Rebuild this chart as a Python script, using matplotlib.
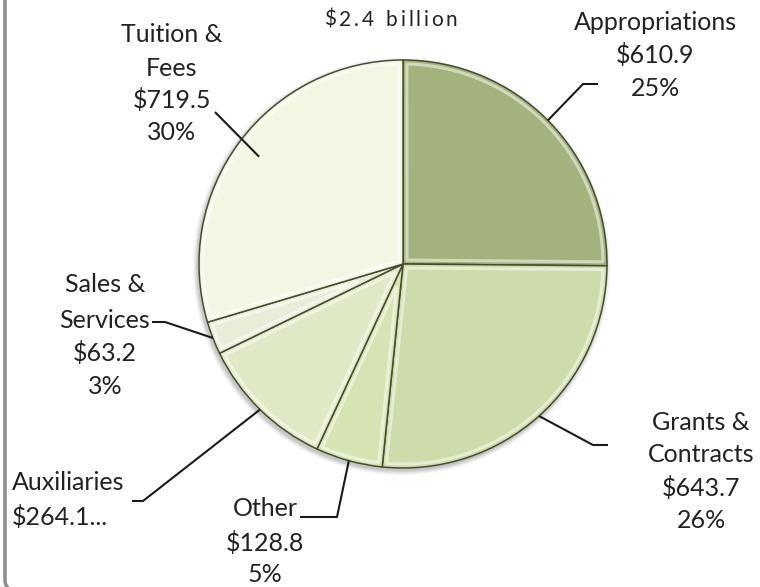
import matplotlib
matplotlib.use("Agg")
import matplotlib.pyplot as plt
import numpy as np
from matplotlib.patches import FancyBboxPatch, Circle, Polygon

# Revenue sources, millions of dollars
categories = ["Appropriations", "Grants & Contracts", "Other", "Auxiliaries",
              "Sales & Services", "Tuition & Fees"]
values = [610.9, 643.7, 128.8, 264.1, 63.2, 719.5]
total_label = "$2.4 billion"

colors = ["#a4b27d", "#cddcaa", "#d5e4b2", "#dfe9c5", "#e7edd9", "#f4f6e3"]

plt.rcParams["font.family"] = ["Lato", "DejaVu Sans"]

W, H = 760, 587
fig = plt.figure(figsize=(W / 100, H / 100), dpi=100)
ax = fig.add_axes([0, 0, 1, 1])

cx, cy, R = 403, 323, 204

# soft shadow under the pie
for k, a in zip(range(6, 0, -1), [0.03, 0.04, 0.05, 0.06, 0.08, 0.10]):
    ax.add_patch(Circle((cx - 1.5, cy - 2.5), R + k * 0.8, color="#555555",
                        alpha=a, lw=0, zorder=1))

wedges, _ = ax.pie(values, startangle=90, counterclock=False,
                   center=(cx, cy), radius=R, colors=colors,
                   wedgeprops=dict(edgecolor="#474c30", linewidth=1.1))
for w in wedges:
    w.set_zorder(2)

# inset outline on each wedge for a bevelled look
d = 4.0
for w in wedges:
    t1, t2 = np.deg2rad(w.theta1), np.deg2rad(w.theta2)
    half = (t2 - t1) / 2
    mid = (t1 + t2) / 2
    off = d / np.sin(half) if half < np.pi / 2 else d
    p0 = (cx + off * np.cos(mid), cy + off * np.sin(mid))
    a1 = t1 + d / R
    a2 = t2 - d / R
    arc = np.linspace(a1, a2, 60)
    pts = [p0] + [(cx + (R - d) * np.cos(a), cy + (R - d) * np.sin(a)) for a in arc]
    ax.add_patch(Polygon(pts, closed=True, facecolor="none", edgecolor="white",
                         alpha=0.5, lw=2.2, joinstyle="round", zorder=3))

ax.set_xlim(0, W)
ax.set_ylim(0, H)
ax.set_aspect("auto")
ax.axis("off")

total = sum(values)
pcts = [f"{round(v / total * 100):.0f}%" for v in values]
mids = [np.deg2rad((w.theta1 + w.theta2) / 2) for w in wedges]


def anchor(i, frac=1.0):
    return cx + R * frac * np.cos(mids[i]), cy + R * frac * np.sin(mids[i])


fs = 18
txt = dict(fontsize=fs, color="#222222", va="center")

# text blocks: (lines, x, y of each line, alignment)
blocks = [
    (["Appropriations", f"${values[0]:.1f}", pcts[0]], 655, [564, 532, 498], "center"),
    (["Grants &", "Contracts", f"${values[1]:.1f}", pcts[1]], 701, [164, 132, 99, 67], "center"),
    (["Other", f"${values[2]:.1f}", pcts[2]], 265, [79, 44, 12], "center"),
    (["Auxiliaries", f"${values[3]:.1f}..."], 12, [104, 70], "left"),
    (["Sales &", "Services", f"${values[4]:.1f}", pcts[4]], 105, [302, 266, 234, 200], "center"),
    (["Tuition &", "Fees", f"${values[5]:.1f}", pcts[5]], 172, [552, 519, 487, 455], "center"),
]
for lines, x, ys, ha in blocks:
    for s, y in zip(lines, ys):
        ax.text(x, y, s, ha=ha, **txt)

# leader lines: (slice index, elbow, end, anchor radius fraction)
leaders = [
    (0, (583, 503), (598, 503), 1.0),
    (1, (593, 142), (608, 142), 1.0),
    (2, (337, 70), (300, 70), 1.0),
    (3, (143, 86), (132, 86), 1.0),
    (4, (165, 265), (152, 265), 1.0),
    (5, None, (215, 475), 0.88),
]
for i, elbow, end, frac in leaders:
    ax0, ay0 = anchor(i, frac)
    pts = [(ax0, ay0)] + ([elbow] if elbow else []) + [end]
    xs, ys = zip(*pts)
    ax.plot(xs, ys, color="#1a1a1a", lw=1.5, zorder=5, solid_capstyle="butt")

# letter-spaced total at the top
fig.canvas.draw()
renderer = fig.canvas.get_renderer()
tfs = 15
tracking = 2.8
char_w = []
for ch in total_label:
    t = ax.text(0, 0, ch if ch != " " else "n", fontsize=tfs)
    bb = t.get_window_extent(renderer)
    char_w.append(bb.width * (0.55 if ch == " " else 1.0))
    t.remove()
span = sum(char_w) + tracking * (len(total_label) - 1)
x = 391 - span / 2
for ch, wdt in zip(total_label, char_w):
    ax.text(x, 567, ch, fontsize=tfs, color="#222222", ha="left", va="center")
    x += wdt + tracking

# frame along the left edge with a rounded lower corner
ax.add_patch(FancyBboxPatch((5, -3), 900, 800,
                            boxstyle="round,pad=0,rounding_size=10",
                            facecolor="none", edgecolor="#8c8c8c", lw=2.5,
                            zorder=6, clip_on=False))

fig.savefig("out.png", dpi=100)
